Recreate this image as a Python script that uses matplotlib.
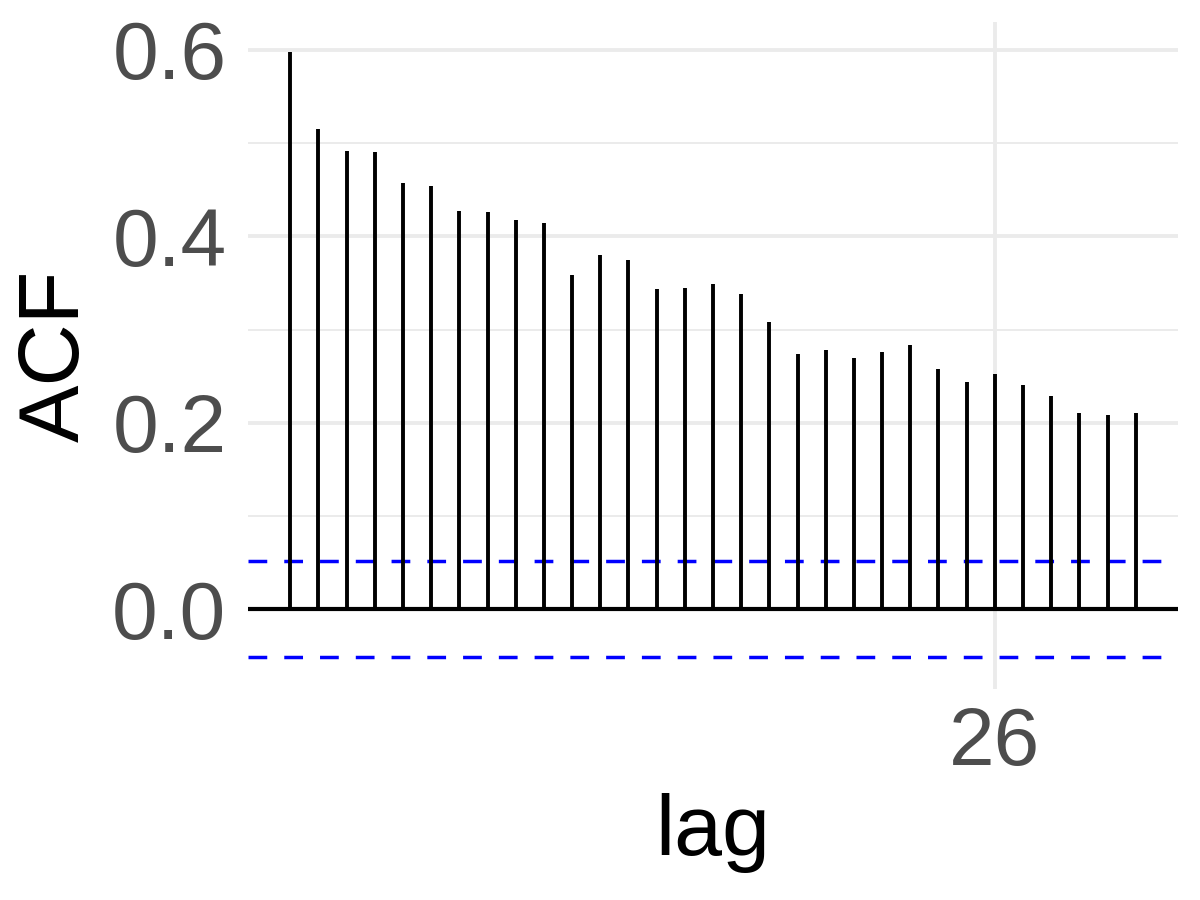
import numpy as np
import matplotlib
matplotlib.use("Agg")
import matplotlib.pyplot as plt

# autocorrelation estimates
lags = list(range(1, 32))
acf = [0.598, 0.515, 0.492, 0.490, 0.457, 0.454, 0.427, 0.426, 0.418, 0.414,
       0.359, 0.380, 0.375, 0.344, 0.345, 0.349, 0.338, 0.308, 0.274, 0.278,
       0.269, 0.276, 0.284, 0.258, 0.244, 0.252, 0.241, 0.229, 0.211, 0.208,
       0.211]
ci = 0.0515
x_ticks = [26]
y_ticks = [0.0, 0.2, 0.4, 0.6]
y_minor = [0.1, 0.3, 0.5]

plt.rcParams['font.family'] = ['Liberation Sans', 'DejaVu Sans']

fig = plt.figure(figsize=(12, 9), dpi=100)
ax = fig.add_axes([248 / 1200, 1 - 689 / 900, 930 / 1200, 667 / 900])

# grid
for y in y_ticks:
    ax.axhline(y, color='#EBEBEB', lw=2.8, zorder=0)
for y in y_minor:
    ax.axhline(y, color='#EBEBEB', lw=1.4, zorder=0)
for x in x_ticks:
    ax.axvline(x, color='#EBEBEB', lw=2.8, zorder=0)

ax.vlines(lags, 0, acf, color='black', lw=2.8, zorder=3)
ax.axhline(0, color='black', lw=3.0, zorder=3)
for c in (ci, -ci):
    line = ax.axhline(c, color='blue', lw=2.5, zorder=2)
    line.set_dashes((5.4, 4.9))

ax.set_xlim(-0.5, 32.5)
ax.set_ylim(-0.0856, 0.630)
ax.set_xticks(x_ticks)
ax.set_yticks(y_ticks)
ax.set_yticklabels([f"{v:.1f}" for v in y_ticks])
ax.tick_params(axis='both', length=0, labelsize=59, labelcolor='#4D4D4D')
ax.tick_params(axis='y', pad=15.5)
ax.tick_params(axis='x', pad=12)
for s in ax.spines.values():
    s.set_visible(False)

ax.set_xlabel('lag', fontsize=62, labelpad=8)
ax.set_ylabel('ACF', fontsize=62, labelpad=11)

fig.savefig('out.png', dpi=100)
